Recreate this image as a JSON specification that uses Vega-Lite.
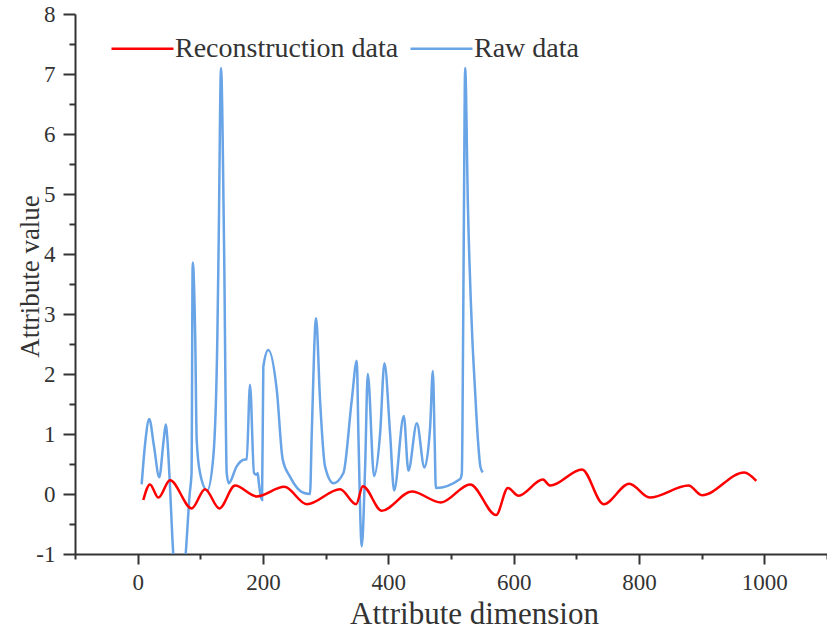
{
  "$schema": "https://vega.github.io/schema/vega-lite/v6.json",
  "width": 752,
  "height": 540,
  "autosize": "none",
  "padding": {"left": 75, "top": 14, "right": 0, "bottom": 78},
  "background": "white",
  "config": {
    "view": {"stroke": null},
    "font": "Liberation Serif"
  },
  "datasets": {
    "raw": [
      {"x": 6.4, "y": 0.16}, {"x": 12, "y": 0.85}, {"x": 18.5, "y": 1.25}, {"x": 26, "y": 0.8},
      {"x": 34.5, "y": 0.28}, {"x": 41, "y": 0.85}, {"x": 44.7, "y": 1.16}, {"x": 47.5, "y": 0.9},
      {"x": 50.5, "y": 0.35}, {"x": 56.8, "y": -1.0}, {"x": 66.7, "y": -1.9}, {"x": 76.6, "y": -1.0},
      {"x": 83, "y": 0.0}, {"x": 86, "y": 0.35}, {"x": 87.8, "y": 3.86}, {"x": 91.9, "y": 2.57},
      {"x": 94.2, "y": 0.9}, {"x": 99.5, "y": 0.35}, {"x": 111, "y": 0.06}, {"x": 120.7, "y": 0.62},
      {"x": 127.1, "y": 2.57}, {"x": 129.3, "y": 4.23}, {"x": 133, "y": 7.1}, {"x": 137.8, "y": 4.2},
      {"x": 142.1, "y": 0.35}, {"x": 145.3, "y": 0.18}, {"x": 158, "y": 0.46}, {"x": 168.6, "y": 0.57},
      {"x": 174, "y": 0.58}, {"x": 179.3, "y": 1.82}, {"x": 185.7, "y": 0.35}, {"x": 190, "y": 0.32},
      {"x": 191.6, "y": 0.35}, {"x": 193.2, "y": 0.2}, {"x": 198.5, "y": -0.1}, {"x": 200.5, "y": 2.12},
      {"x": 208.5, "y": 2.4}, {"x": 222, "y": 1.73}, {"x": 231.5, "y": 0.57}, {"x": 243, "y": 0.29},
      {"x": 264.4, "y": 0.02}, {"x": 275, "y": 0.0}, {"x": 277.8, "y": 1.01}, {"x": 284.7, "y": 2.93},
      {"x": 291, "y": 1.57}, {"x": 299, "y": 0.46}, {"x": 312.3, "y": 0.18}, {"x": 328.3, "y": 0.35},
      {"x": 341.7, "y": 1.57}, {"x": 349.7, "y": 2.22}, {"x": 352.2, "y": 1.01}, {"x": 357.6, "y": -0.87},
      {"x": 363, "y": 0.46}, {"x": 367.2, "y": 2.0}, {"x": 377.3, "y": 0.3}, {"x": 386.9, "y": 1.01},
      {"x": 393.8, "y": 2.18}, {"x": 402.8, "y": 1.01}, {"x": 409.2, "y": 0.06}, {"x": 424.7, "y": 1.3},
      {"x": 432, "y": 0.39}, {"x": 445.5, "y": 1.18}, {"x": 457.6, "y": 0.44}, {"x": 466.7, "y": 1.12},
      {"x": 471, "y": 2.05}, {"x": 474, "y": 0.85}, {"x": 475.8, "y": 0.1}, {"x": 514.6, "y": 0.25},
      {"x": 517.3, "y": 0.35}, {"x": 518.3, "y": 1.12}, {"x": 520.5, "y": 4.5}, {"x": 522.6, "y": 7.1},
      {"x": 527, "y": 4.8}, {"x": 534, "y": 2.6}, {"x": 538, "y": 1.8}, {"x": 543, "y": 0.9},
      {"x": 547, "y": 0.45}, {"x": 550.8, "y": 0.36}
    ],
    "recon": [
      {"x": 9, "y": -0.1}, {"x": 19.6, "y": 0.16}, {"x": 33, "y": -0.06}, {"x": 51.6, "y": 0.23},
      {"x": 86.2, "y": -0.24}, {"x": 107.5, "y": 0.08}, {"x": 130.3, "y": -0.24}, {"x": 155.4, "y": 0.14},
      {"x": 190, "y": -0.04}, {"x": 234, "y": 0.12}, {"x": 269.8, "y": -0.17}, {"x": 323, "y": 0.08},
      {"x": 348.6, "y": -0.17}, {"x": 359.3, "y": 0.13}, {"x": 389.6, "y": -0.28}, {"x": 437.5, "y": 0.04},
      {"x": 483.8, "y": -0.14}, {"x": 530.6, "y": 0.16}, {"x": 572, "y": -0.35}, {"x": 590.8, "y": 0.1},
      {"x": 607.7, "y": -0.03}, {"x": 646.6, "y": 0.24}, {"x": 658.3, "y": 0.14}, {"x": 709, "y": 0.41},
      {"x": 743.5, "y": -0.17}, {"x": 784.5, "y": 0.17}, {"x": 817, "y": -0.06}, {"x": 879, "y": 0.14},
      {"x": 900.5, "y": -0.02}, {"x": 968, "y": 0.36}, {"x": 987.2, "y": 0.22}
    ]
  },
  "encoding": {
    "x": {
      "field": "x", "type": "quantitative",
      "scale": {"domain": [-100, 1100], "nice": false, "zero": false},
      "axis": {
        "values": [-100, 0, 100, 200, 300, 400, 500, 600, 700, 800, 900, 1000, 1100],
        "labelExpr": "datum.value % 200 === 0 ? '' + datum.value : ''",
        "grid": false,
        "domainColor": "#333333", "domainWidth": 2,
        "tickColor": "#333333", "tickWidth": 2,
        "tickSize": {"condition": {"test": "datum.value % 200 === 0", "value": 10}, "value": 5},
        "labelFont": "Liberation Serif", "labelFontSize": 23, "labelColor": "#333333",
        "labelPadding": 7, "labelFlush": false,
        "title": "Attribute dimension",
        "titleFont": "Liberation Serif", "titleFontSize": 31, "titleFontWeight": "normal", "titleColor": "#333333",
        "titleX": 399, "titleY": 69, "titleAlign": "center", "titleBaseline": "alphabetic"
      }
    },
    "y": {
      "field": "y", "type": "quantitative",
      "scale": {"domain": [-1, 8], "nice": false, "zero": false},
      "axis": {
        "values": [-1, -0.5, 0, 0.5, 1, 1.5, 2, 2.5, 3, 3.5, 4, 4.5, 5, 5.5, 6, 6.5, 7, 7.5, 8],
        "labelExpr": "datum.value % 1 === 0 ? '' + datum.value : ''",
        "grid": false,
        "domainColor": "#333333", "domainWidth": 2,
        "tickColor": "#333333", "tickWidth": 2,
        "tickSize": {"condition": {"test": "datum.value % 1 === 0", "value": 12}, "value": 6},
        "labelFont": "Liberation Serif", "labelFontSize": 23, "labelColor": "#333333",
        "labelPadding": 8, "labelFlush": false,
        "title": "Attribute value",
        "titleFont": "Liberation Serif", "titleFontSize": 27, "titleFontWeight": "normal", "titleColor": "#333333",
        "titleX": -37, "titleY": 262, "titleAngle": 270, "titleAlign": "center", "titleBaseline": "alphabetic"
      }
    },
    "color": {
      "field": "series", "type": "nominal",
      "scale": {"domain": ["Reconstruction data", "Raw data"], "range": ["#ff0000", "#68a4e6"]},
      "legend": {
        "title": null,
        "orient": "none", "legendX": 35, "legendY": 2,
        "direction": "horizontal",
        "symbolType": "stroke", "symbolSize": 3844, "symbolStrokeWidth": 2.5,
        "labelFont": "Liberation Serif", "labelFontSize": 28, "labelColor": "#333333",
        "labelLimit": 500,
        "labelOffset": 0, "columnPadding": 6, "padding": 0
      }
    }
  },
  "layer": [
    {
      "data": {"name": "raw"},
      "transform": [{"calculate": "'Raw data'", "as": "series"}],
      "mark": {"type": "line", "interpolate": "monotone", "strokeWidth": 2.5, "clip": true}
    },
    {
      "data": {"name": "recon"},
      "transform": [{"calculate": "'Reconstruction data'", "as": "series"}],
      "mark": {"type": "line", "interpolate": "monotone", "strokeWidth": 2.5, "clip": true}
    }
  ]
}
